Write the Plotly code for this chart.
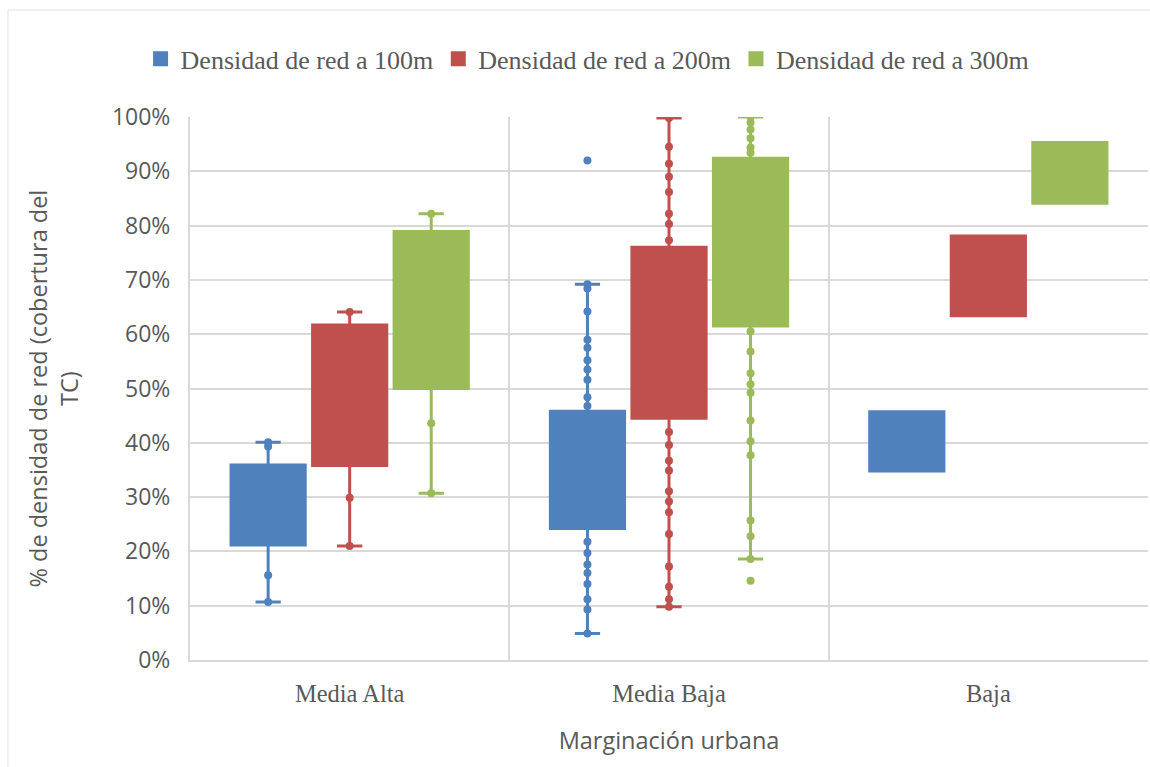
import plotly.graph_objects as go

categories = ["Media Alta", "Media Baja", "Baja"]
series_names = ["Densidad de red a 100m", "Densidad de red a 200m", "Densidad de red a 300m"]
colors = ["#4F81BD", "#C0504D", "#9BBB59"]

# Box statistics (% values) per category for each series
lower_100 = [10.7, 4.9, 34.8]
q1_100 = [21.2, 24.2, 34.8]
median_100 = [23.6, 35.5, 40.3]
q3_100 = [35.9, 45.8, 45.7]
upper_100 = [40.1, 69.2, 45.7]

lower_200 = [21.0, 9.8, 63.4]
q1_200 = [35.8, 44.5, 63.4]
median_200 = [45.4, 61.5, 70.7]
q3_200 = [61.7, 76.0, 78.1]
upper_200 = [64.1, 99.8, 78.1]

lower_300 = [30.7, 18.6, 84.1]
q1_300 = [50.0, 61.5, 84.1]
median_300 = [60.0, 78.3, 89.7]
q3_300 = [78.9, 92.4, 95.3]
upper_300 = [82.2, 100.0, 95.3]

# Visible individual data points (outside the boxes)
points_100 = {
    "Media Alta": [40.1, 39.3, 15.6, 10.7],
    "Media Baja": [92.0, 69.2, 68.4, 64.2, 59.0, 57.5, 55.2, 53.5, 51.6, 48.4, 46.8,
                   21.8, 19.7, 17.6, 16.0, 14.0, 11.2, 9.3, 4.9],
    "Baja": [],
}
points_200 = {
    "Media Alta": [64.1, 29.9, 21.0],
    "Media Baja": [99.8, 94.5, 91.4, 89.0, 86.2, 82.2, 80.3, 77.3, 42.0, 39.6, 36.7,
                   34.9, 31.1, 29.2, 27.2, 23.2, 17.2, 13.5, 11.2, 9.8],
    "Baja": [],
}
points_300 = {
    "Media Alta": [82.2, 43.6, 30.7],
    "Media Baja": [100.0, 99.0, 97.7, 96.1, 94.4, 93.4, 60.5, 56.8, 52.8, 50.8, 49.2,
                   44.1, 40.3, 37.7, 25.7, 22.8, 18.6, 14.6],
    "Baja": [],
}

stats = [
    (lower_100, q1_100, median_100, q3_100, upper_100, points_100),
    (lower_200, q1_200, median_200, q3_200, upper_200, points_200),
    (lower_300, q1_300, median_300, q3_300, upper_300, points_300),
]

fig = go.Figure()
for i, (lo, q1, me, q3, up, pts) in enumerate(stats):
    fig.add_trace(go.Box(
        name=series_names[i], x=categories,
        lowerfence=lo, q1=q1, median=me, q3=q3, upperfence=up,
        fillcolor=colors[i], line=dict(color=colors[i], width=3),
        whiskerwidth=0.34, offsetgroup=f"g{i}", boxpoints=False,
        legendgroup=f"g{i}",
    ))
for i, (lo, q1, me, q3, up, pts) in enumerate(stats):
    xs, ys = [], []
    for c in categories:
        xs += [c] * len(pts[c])
        ys += pts[c]
    fig.add_trace(go.Scatter(
        x=xs, y=ys, mode="markers", offsetgroup=f"g{i}",
        marker=dict(color=colors[i], size=8), showlegend=False,
        legendgroup=f"g{i}",
    ))

grid = "#D9D9D9"
fig.update_layout(
    width=1150, height=767,
    margin=dict(l=190, r=2, t=117, b=107),
    paper_bgcolor="white", plot_bgcolor="white",
    boxmode="group", boxgap=0.234, boxgroupgap=0.09,
    scattermode="group", scattergap=0.234,
    legend=dict(orientation="h", x=0.415, xanchor="center", y=1.107, yanchor="middle",
                font=dict(family="Liberation Serif", size=26, color="#595959"),
                itemwidth=30, traceorder="normal"),
    xaxis=dict(type="category", tickson="boundaries", showgrid=True, gridcolor=grid, gridwidth=2,
               showline=True, linecolor=grid, linewidth=2, ticks="",
               tickfont=dict(family="Liberation Serif", size=24.5, color="#595959"),
               ticklabelstandoff=11,
               title=dict(text="Marginación urbana", standoff=26,
                          font=dict(family="Open Sans", size=23.5, color="#595959"))),
    yaxis=dict(range=[0, 100], dtick=10, ticksuffix="%", showgrid=True, gridcolor=grid, gridwidth=2,
               showline=True, linecolor=grid, linewidth=2, zeroline=False, ticks="",
               tickfont=dict(family="Open Sans", size=23, color="#595959"),
               ticklabelstandoff=13),
    annotations=[dict(text="% de densidad de red (cobertura del<br>TC)", xref="paper", yref="paper",
                      x=-0.142, y=0.5, xanchor="center", yanchor="middle", textangle=-90,
                      showarrow=False, font=dict(family="Open Sans", size=23.5, color="#595959"))],
    shapes=[dict(type="line", xref="paper", yref="paper", x0=-0.19, x1=-0.19, y0=-0.3, y1=1.197,
                 line=dict(color="#E3E3E3", width=1)),
            dict(type="line", xref="paper", yref="paper", x0=-0.19, x1=1.01, y0=1.197, y1=1.197,
                 line=dict(color="#E3E3E3", width=1))],
)

fig.write_html("out.html", config={"displayModeBar": False},
               post_script="document.body.style.margin='0';")
